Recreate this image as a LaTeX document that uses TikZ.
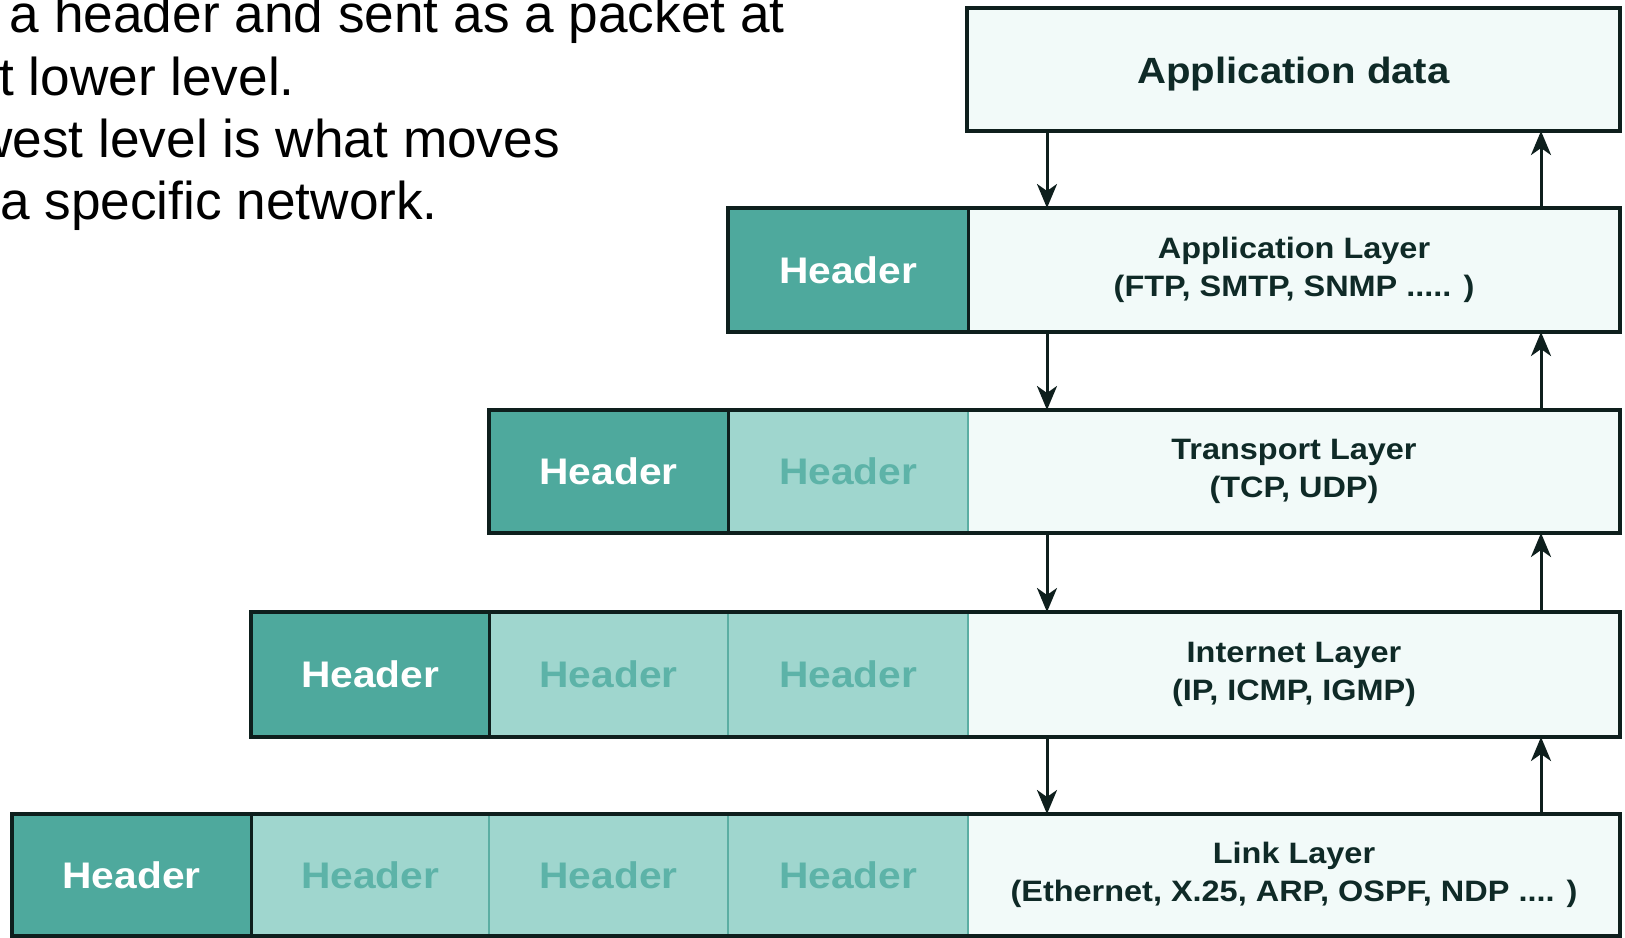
\documentclass[tikz,border=0pt]{standalone}
\usepackage{fontspec}
\setmainfont{Liberation Sans}
\newfontfamily\boxfont[FakeStretch=1.1]{Liberation Sans}
\usetikzlibrary{arrows.meta}
\definecolor{dkteal}{HTML}{4EA99D}
\definecolor{ltteal}{HTML}{9FD6CE}
\definecolor{datfill}{HTML}{F2FAF9}
\definecolor{lttext}{HTML}{5DB3A8}
\definecolor{tline}{HTML}{5BAEA3}
\definecolor{bord}{HTML}{0E1F1D}
\definecolor{laytext}{HTML}{0F2A27}
\tikzset{
  cell/.style={rectangle, inner sep=0pt, outer sep=0pt, anchor=north west},
  dk/.style={cell, fill=dkteal, text=white, font=\boxfont\bfseries\fontsize{37}{40}\selectfont},
  lt/.style={cell, fill=ltteal, draw=tline, line width=2pt, text=lttext, font=\boxfont\bfseries\fontsize{37}{40}\selectfont},
  dat/.style={cell, fill=datfill, draw=tline, line width=2pt, text=laytext, align=center, font=\boxfont\bfseries\fontsize{29.5}{38}\selectfont},
  outer/.style={draw=bord, line width=3.5pt},
  arr/.style={draw=bord, line width=3pt, -{Stealth[length=24pt, width=20pt, inset=7pt]}},
  slide/.style={anchor=base east, inner sep=0pt, font=\fontsize{53.2}{63}\selectfont}
}
\begin{document}
\begin{tikzpicture}[x=1pt, y=-1pt]
\useasboundingbox (0,0) rectangle (1625,937);
\clip (0,0) rectangle (1625,937);
\fill[white] (0,0) rectangle (1625,937);

% slide text
\node[slide] (t1) at (785,32) {a header and sent as a packet at};
\node[slide] (t2) at (295,95) {t lower level.};
\node[slide] (t3) at (560,157) {west level is what moves};
\node[slide] (t4) at (438,219) {a specific network.};

% top box
\node[dat, minimum width=653pt, minimum height=123pt] (top) at (967,8) {};
\draw[outer] (top.north west) rectangle (top.south east);
\node[text=laytext, inner sep=0pt, font=\boxfont\bfseries\fontsize{36.5}{40}\selectfont, yshift=-5pt] (toplbl) at (top.center) {Application data};

% row 1
\node[dat, minimum width=652pt, minimum height=124pt] (r1d) at (968,208) {Application Layer\\(FTP, SMTP, SNMP ..... )};
\node[dk, minimum width=240pt, minimum height=124pt] (r1h) at (728,208) {Header};
\draw[draw=bord, line width=3pt] (r1h.north east) -- (r1h.south east);
\draw[outer] (r1h.north west) rectangle (r1d.south east);

% row 2
\node[dat, minimum width=652pt, minimum height=123pt] (r2d) at (968,410) {Transport Layer\\(TCP, UDP)};
\node[lt, minimum width=240pt, minimum height=123pt] (r2a) at (728,410) {Header};
\node[dk, minimum width=239pt, minimum height=123pt] (r2h) at (489,410) {Header};
\draw[draw=bord, line width=3pt] (r2h.north east) -- (r2h.south east);
\draw[outer] (r2h.north west) rectangle (r2d.south east);

% row 3
\node[dat, minimum width=652pt, minimum height=125pt] (r3d) at (968,612) {Internet Layer\\(IP, ICMP, IGMP)};
\node[lt, minimum width=240pt, minimum height=125pt] (r3b) at (728,612) {Header};
\node[lt, minimum width=239pt, minimum height=125pt] (r3a) at (489,612) {Header};
\node[dk, minimum width=238pt, minimum height=125pt] (r3h) at (251,612) {Header};
\draw[draw=bord, line width=3pt] (r3h.north east) -- (r3h.south east);
\draw[outer] (r3h.north west) rectangle (r3d.south east);

% row 4
\node[dat, minimum width=652pt, minimum height=122pt] (r4d) at (968,814) {Link Layer\\(Ethernet, X.25, ARP, OSPF, NDP .... )};
\node[lt, minimum width=240pt, minimum height=122pt] (r4c) at (728,814) {Header};
\node[lt, minimum width=239pt, minimum height=122pt] (r4b) at (489,814) {Header};
\node[lt, minimum width=238pt, minimum height=122pt] (r4a) at (251,814) {Header};
\node[dk, minimum width=239pt, minimum height=122pt] (r4h) at (12,814) {Header};
\draw[draw=bord, line width=3pt] (r4h.north east) -- (r4h.south east);
\draw[outer] (r4h.north west) rectangle (r4d.south east);

% arrows
\coordinate (dx) at (1047,0);
\coordinate (ux) at (1541,0);
\draw[arr] (top.south -| dx) -- (r1d.north -| dx);
\draw[arr] (r1d.north -| ux) -- (top.south -| ux);
\draw[arr] (r1d.south -| dx) -- (r2d.north -| dx);
\draw[arr] (r2d.north -| ux) -- (r1d.south -| ux);
\draw[arr] (r2d.south -| dx) -- (r3d.north -| dx);
\draw[arr] (r3d.north -| ux) -- (r2d.south -| ux);
\draw[arr] (r3d.south -| dx) -- (r4d.north -| dx);
\draw[arr] (r4d.north -| ux) -- (r3d.south -| ux);
\end{tikzpicture}
\end{document}
